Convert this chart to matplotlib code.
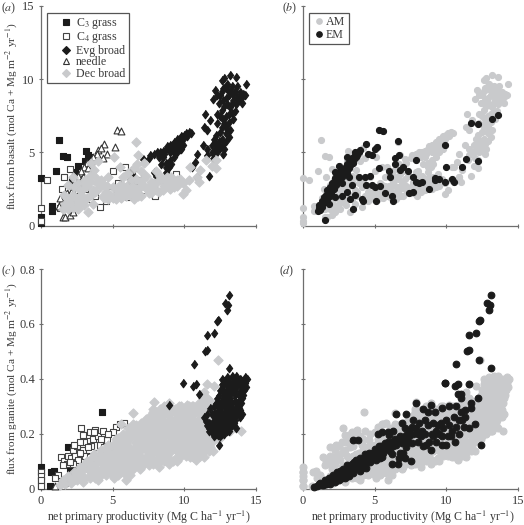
import matplotlib
matplotlib.use("Agg")
import matplotlib.pyplot as plt
from matplotlib.lines import Line2D
import numpy as np

plt.rcParams['font.family'] = ['Liberation Serif', 'DejaVu Serif']
plt.rcParams['mathtext.fontset'] = 'stix'

BLACK = '#1b1b1b'
GRAY = '#c9cacc'
AXC = '#6e6e6e'
TXT = '#3a3a3a'

# ---------- basalt flux ----------
c3_basalt = [(0,3.25),(0,.6),(0,.15),(1.25,5.87),(1.5,4.77),(1.8,4.68),(1.05,3.75),(.8,1.3),(.8,1),(3.15,5.1),
             (3.3,4.85),(2.55,4.05),(2.37,3.65),(3.4,4.7),(2.15,3.1),(2.7,2.6),(3.1,4.4)]
c4_basalt = [(0,1.2),(0,.3),(.45,3.1),(2,3.85),(1.6,3.3),(1.45,2.5),(5.85,4),(6.2,3.5),(6.8,3.55),(4.15,1.25),
             (3.75,2),(9.45,3.55),(6.1,1.95),(7.95,2),(5,3.75),(2.3,2.9),(2.6,2.4),(1.9,2.1),(3.1,2.5),(3.4,1.8),
             (4.5,1.7),(4.9,2.3),(5.4,2.9),(6.6,2.6),(7.2,2.4),(8.3,2.7),(3,3.2),(2.1,1.5),(1.3,1.2),(1.6,1.7)]
evg_basalt = [(7.1,4.55),(7.5,4.6),(7.6,4.8),(7.9,4.9),(8.1,5.0),(8.3,5.0),(8.5,5.1),(8.7,5.2),(8.8,5.4),(9,5.5),
              (9.1,5.3),(9.2,5.6),(9.3,5.7),(9.4,5.5),(9.5,5.9),(9.6,5.6),(9.7,6),(9.8,6.1),(9.9,5.9),(10,6.2),
              (10.1,6.3),(10.3,6.4),(10.45,6.3),(9.9,5.5),(9.7,5.2),(9.5,5.0),(9.3,4.7),(8.9,5.3),(8.5,4.7),
              (8.75,4.0),(8.7,3.65),(7.85,3.65),(8.05,3.4),(6.3,3.75),(6.45,3.3),(6.3,2.97),(6.2,3.2),(8.7,4.3),(8.9,4.0),(9.1,4.2),
              (10.5,4),(10.75,4.35),(10.85,4.9),(11.3,5.5),(11.7,3.4),(10.9,3.3),(13.2,10.3),(13.6,10.15),(14.3,9.65),
              (12.6,9.95),(12,8.65),(12.15,9.25),(11.45,7.65),(11.35,6.75),(11.6,6.5),(11.8,7.2),(12.25,7),(13.15,6.05),
              (12.8,10.1),(13,9.7),(12.7,9.4),(13.3,9.5),(13.5,9.2),(13.9,9.1),(14.1,9),(13.7,8.8),(13.4,8.6),(13.1,8.9),
              (12.9,8.7),(12.5,8.9),(12.4,8.4),(12.8,8.2),(13.2,8.1),(13.6,8.3),(14,8.4),(13.5,7.8),(13.1,7.6),(12.6,7.9),
              (12.3,7.6),(12.7,7.3),(13.1,7.1),(13.4,7.3),(12.9,6.8),(12.5,6.4),(12.2,6.2),(12.9,6.3),(13.2,6.5),
              (12.6,5.9),(12.9,5.8),(12.2,5.6),(12.5,5.3),(12.1,5.1),(11.9,5.0),(11.6,4.8),(12.3,5),(12.8,5.2),(11.9,5.5),(12,4.6),(11.6,5.2),(12.7,4.9),
              (13,9.3),(13.2,9.1),(12.9,9.5),(12.6,9.2),(12.3,8.9),(13.4,9),(13.7,9.5),(13.8,8.6),(14.2,8.9),(14,8.8),
              (13,8.3),(12.7,8.6),(13.3,8.4),(12.5,7.5),(12.9,7.5),(13.3,7.7),(12.8,7),(13,6.6),(12.6,6.7),(12.4,5.8),
              (12.7,5.6),(12.3,5.4),(12.1,5.9),(8.2,4.7),(8.6,4.9),(9.0,5),(9.2,5.1),(9.6,5.4),(9.8,5.7),(10.2,6.1),(9.4,5.2),(9.8,5.2),(9,4.5),(8.4,4.2)]
needle_basalt = [(5.3,6.55),(5.6,6.45),(5.15,5.35),(4.4,5.6),(4,5.15),(4.6,4.9),(4.2,5.3),(3.9,4.9),(3.6,4.7),(3.5,4.4),
                 (3.2,4.3),(3,4),(2.8,3.7),(2.6,3.4),(2.4,3.1),(2.2,2.8),(2,2.5),(1.8,2.2),(1.6,1.9),(1.4,1.6),
                 (1.25,1.3),(1.5,.55),(1.7,.6),(2,.75),(2.2,.9),(4.3,4.6),(3.3,3.9),(2.9,3.3),(2.5,2.9),(2.1,2.3),(1.3,1.9)]
dec_basalt = [(3.3,.95),(1.5,1.1),(1.8,1.3),(2.2,1.2),(2.6,1.1),(3,1.4),(3.6,1.5),(1.9,1.8),(1.6,2.1),(2.4,1.9),
              (2.3,2.6),(2.8,2.1),(2.6,2.9),(3.2,2.7),(3.6,2.4),(3.9,2.9),(4.2,3.1),(4.7,3.3),(3.4,3.4),(3.7,3.8),
              (4,4.4),(3.5,4.3),(5.1,4.7),(5.5,4),(6.6,5.7),(6.8,4.8),(6.7,4.2),(7.2,4.3),(4.3,2),(4.5,2.3),
              (4.7,1.8),(5,1.9),(5,2.6),(5.3,2.2),(5.5,2.8),(5.6,1.9),(5.8,2.3),(6,2.7),(6.2,2.1),(6.3,3.1),
              (6.5,1.8),(6.7,2.4),(6.9,3),(7,2),(7.2,2.7),(7.3,3.4),(7.5,2.2),(7.7,3),(7.8,2.5),(8,3.7),
              (8.2,2.3),(8.4,3.1),(8.6,2.7),(8.8,3.3),(9,2.5),(9.2,3),(9.5,2.7),(9.7,3.2),(9.9,2.9),(9.9,2.15),
              (10.1,2.4),(10.3,3.1),(10.4,4),(10.9,3.3),(11,3),(11.1,3.8),(11.5,4.5),(12.2,3.9),(12.2,4.5),(11.9,4.1),
              (5.7,3.3),(6.1,3.6),(6.5,3.9),(7,3.7),(7.9,2.9),(3.1,3.1),(2.9,2.5),(1.9,2.8),(2.2,3.3),(4.6,2.7),
              (4.4,1.9),(4.8,2.1),(5.2,1.8),(5.4,2.4),(5.7,2.7),(5.9,2),(6.1,2.4),(6.4,2.2),(6.4,2.7),(6.6,3.2),
              (6.8,2),(6.9,2.6),(7.1,3.2),(7.4,2.5),(7.6,2.7),(7.7,2.2),(8,2.4),(8.1,3),(8.3,3.4),(8.5,2.4),
              (8.7,3),(8.9,2.8),(9.1,3.3),(9.3,2.6),(9.5,3.1),(2.5,1.5),(2.8,1.7),(3.2,1.9),(3.5,2.1),(3.8,2.3),
              (2,1.6),(2.2,2.1),(2.7,2.4),(3,2.9),(3.4,3),(3.8,3.3),(4.1,2.6),(4.4,2.8),(1.7,1.5),(1.9,1.1)]

em_basalt_line = [(1.05,1.0),(1.15,1.2),(1.25,1.4),(1.3,1.7),(1.4,1.55),(1.5,1.85),(1.6,2.1),(1.7,1.95),(1.8,2.35),(1.9,2.6),
                  (2,2.45),(2.1,2.85),(2.2,3.05),(2.3,2.8),(2.4,3.2),(2.5,3.45),(2.6,3.2),(2.7,3.6),(2.8,3.85),(2.9,3.55),
                  (3,4),(3.1,4.2),(3.2,3.9),(3.3,4.4),(3.4,4.6),(3.5,4.3),(3.6,4.8),(3.9,5.0),(3.95,5.15),(4.4,5.6),(3.65,5.0),
                  (2.0,2.9),(1.7,2.4),(3.1,4.7),(2.3,3.6),(2.7,2.9),(3.2,3.3),
                  (1.1,1.4),(1.2,1.05),(1.35,1.25),(1.45,1.95),(1.55,1.6),(1.65,1.75),(1.75,2.15),(1.85,2.0),(1.95,2.25),(2.05,2.65),
                  (2.15,2.5),(2.25,3.25),(2.35,3.0),(2.45,2.95),(2.55,3.7),(2.65,3.4),(2.75,3.3),(2.85,3.6),(2.95,3.9),(3.05,3.7),
                  (3.15,4.0),(3.25,4.15),(3.35,4.2),(3.45,4.55),(3.55,4.55),(3.7,4.65),(3.8,4.8),(3.1,3.5),(2.5,4.05),(2.2,3.65)]
em_basalt_scatter = [(5.3,6.55),(5.6,6.45),(5.15,5.35),(5.05,5.2),(4.5,4.9),(4.8,4.8),(6.6,5.75),(6.7,4.85),(6.4,4.6),(6.4,4.2),
                     (5.3,3.95),(6,3.7),(6.1,3.3),(7,4),(6.8,3.8),(7.3,3.7),(7.7,3.3),(7.9,3),(8.3,2.95),(8.1,2.9),
                     (7.7,2.3),(7.4,2.25),(8.8,2.5),(9.2,3.1),(9.5,3.2),(9.9,3),(10.4,3.15),(10.5,2.95),(9.2,3.25),(9.9,5.5),
                     (10,4),(11.1,4),(11.4,4.55),(12.2,4.4),(11.7,7),(12.2,6.95),(13.2,7.3),(13.6,7.55),(7.9,4.45),
                     (1.5,.35),(3.5,1.1),(2.2,1.95),(2.7,2),(3.1,2.3),(3.6,2.1),(3.3,1.8),(4.2,1.7),(4.1,1.8),(4.4,2.8),(4.8,2.75),
                     (5,2.6),(5.4,2.7),(5.7,2.2),(5.1,1.65),(6.2,2),(6.3,1.7),(3.9,3.3),(4.3,3.3),(4.7,3.4),(3.4,2.8),(1.8,1.5)]

# ---------- granite flux ----------
c3_granite = [(0,.08),(0,.06),(.7,.06),(.9,.065),(1.85,.15),(4.25,.28),(0,.03),(0,.01),(.6,.01),(2,.07),(3.5,.12),(1.7,.02)]
c4_granite = [(0,.06),(0,.045),(0,.03),(0,.01),(1.4,.115),(1.6,.1),(1.8,.09),(1.9,.12),(2.1,.11),(2.2,.14),
              (2.4,.12),(2.5,.155),(2.6,.105),(2.8,.22),(2.9,.14),(3,.17),(3.1,.12),(3.2,.195),(3.4,.205),(3.5,.155),
              (3.6,.18),(3.8,.215),(3.9,.13),(4,.19),(4.1,.16),(4.3,.21),(4.5,.13),(4.6,.175),(4.8,.15),(5.2,.225),
              (5.5,.235),(5.8,.24),(5,.205),(2.7,.17),(3.4,.115),(2.2,.09),(1.2,.05),(1.0,.04),
              (2.3,.16),(2.7,.13),(3.3,.15),(3.7,.205),(4.2,.18),(4.4,.15),(4.7,.2),(2,.095),(2.9,.195),(1.5,.085)]
evg_spike = [(13.1,.705),(12.85,.675),(13.05,.67),(12.95,.65),(12.35,.615),(12.3,.61),(11.6,.56),(12.05,.565),(11.55,.505),(11.45,.5),
             (10.65,.455),(9.9,.385),(10.6,.375),(10.8,.38),(11,.345),(8.9,.305),(13.1,.44),(12.4,.16)]
evg_right = [(12.6,.4),(12.8,.39),(13,.405),(13.3,.41),(13.6,.41),(13.9,.4),(14.2,.405),(14.35,.4),(12.7,.36),(12.9,.35),
             (13.1,.37),(13.4,.37),(13.7,.375),(14,.37),(14.3,.37),(12.3,.33),(12.6,.32),(12.85,.33),(13.2,.33),(13.5,.34),
             (13.8,.34),(14.1,.34),(12.1,.3),(12.4,.29),(12.75,.3),(13.05,.3),(13.35,.31),(13.65,.31),(13.95,.31),(11.9,.27),
             (12.2,.25),(12.5,.26),(12.8,.27),(13.1,.27),(13.4,.28),(13.7,.28),(14,.27),(11.7,.22),(12,.21),(12.3,.22),
             (12.6,.23),(12.9,.24),(13.2,.24),(13.5,.25),(11.4,.26),(11.7,.24),(12.1,.19),(12.5,.19),(12.8,.2),(13.1,.21),(11.8,.295),(13.6,.22),
             (12.7,.385),(12.9,.38),(13.15,.39),(13.45,.39),(13.75,.395),(14.05,.39),(14.2,.385),(12.5,.36),(12.8,.35),(13,.35),
             (13.25,.35),(13.55,.355),(13.85,.355),(14.15,.36),(12.45,.31),(12.7,.33),(12.95,.31),(13.2,.31),(13.5,.32),(13.8,.32),
             (14,.33),(12.25,.28),(12.55,.28),(12.9,.285),(13.2,.285),(13.5,.295),(13.8,.295),(12.05,.25),(12.35,.24),(12.65,.25),
             (12.95,.255),(13.25,.26),(13.55,.265),(13.85,.26),(11.85,.23),(12.15,.225),(12.45,.215),(12.75,.22),(13,.225),(13.35,.23),
             (11.75,.21),(12.2,.2),(12.65,.2),(12.95,.21),(11.5,.245),(11.55,.27),(12.05,.27),(12.2,.31),
             (12.45,.34),(12.6,.38),(12.75,.34),(13,.325),(13.1,.345),(13.3,.385),(13.6,.385),(13.9,.38),(14.1,.375),(14.25,.39),
             (12.3,.305),(12.55,.3),(12.85,.31),(13.1,.29),(13.35,.29),(13.65,.29),(13.9,.285),(12.1,.275),(12.35,.265),(12.65,.265),
             (12.95,.27),(13.25,.275),(13.55,.28),(13.8,.27),(12,.24),(12.25,.235),(12.55,.24),(12.8,.245),(13.05,.25),(13.4,.255),
             (11.9,.205),(12.35,.195),(12.6,.215),(12.85,.23),(13.15,.225),(13.45,.24),(11.6,.23)]
needle_granite = [(1,.01),(1.5,.03),(2,.05),(2.5,.07),(3,.09),(3.5,.115)]
dec_granite = [(1.3,.012),(1.5,.03),(1.7,.015),(1.9,.045),(2.1,.02),(2.3,.06),(2.4,.035),(2.7,.08),(2.8,.05),(2.9,.025),
               (3.2,.1),(3.3,.07),(3.4,.04),(3.7,.125),(3.8,.09),(3.9,.06),(4,.03),(4.2,.14),(4.3,.11),(4.4,.08),
               (4.5,.05),(4.7,.16),(4.8,.13),(4.9,.1),(5,.07),(5.1,.04),(5.2,.18),(5.3,.15),(5.4,.12),(5.5,.09),
               (5.6,.06),(5.7,.2),(5.8,.17),(5.9,.14),(6,.11),(6.1,.08),(6.2,.05),(6.4,.235),(6.45,.275),(6.5,.2),
               (6.6,.165),(6.7,.13),(6.8,.1),(6.9,.07),(7,.24),(7.1,.21),(7.2,.18),(7.3,.15),(7.4,.12),(7.5,.085),
               (7.6,.265),(7.7,.23),(7.8,.2),(7.9,.17),(8,.14),(8.1,.105),(8.2,.08),(7.9,.315),(8.3,.29),(8.4,.255),
               (8.5,.22),(8.6,.19),(8.7,.155),(8.8,.12),(8.9,.09),(9,.27),(9.1,.24),(9.2,.21),(9.3,.175),(9.4,.14),
               (9.5,.1),(9.6,.3),(9.7,.26),(9.8,.225),(9.9,.19),(10,.155),(10.1,.12),(10.2,.305),(10.3,.27),(10.4,.24),
               (10.5,.205),(10.6,.17),(10.7,.135),(10.8,.105),(10.9,.29),(11,.25),(11.1,.22),(11.2,.185),(11.3,.15),(11.4,.115),
               (11.55,.38),(11.3,.33),(11.6,.3),(11.7,.265),(11.8,.205),(11.9,.17),(12,.135),(12.1,.375),(12.35,.47),(12.4,.18),
               (13.2,.21),(13.95,.21),(6.1,.22),(5.6,.235),(9.6,.13),(7.2,.1),(5.9,.03),(4.6,.14),(6.3,.14),(8.4,.18),(10.4,.14),
               (1.6,.02),(2,.035),(2.2,.04),(2.6,.06),(3,.07),(3.5,.09),(3.6,.06),(4.1,.11),(4.2,.07),(4.6,.12),
               (4.7,.085),(4.8,.06),(5.05,.13),(5.2,.1),(5.3,.07),(5.5,.165),(5.6,.13),(5.7,.1),(5.8,.075),(6,.19),
               (6.1,.155),(6.2,.125),(6.3,.095),(6.4,.07),(6.7,.215),(6.75,.185),(6.85,.15),(6.95,.115),(7.1,.09),(7.3,.255),
               (7.4,.225),(7.5,.195),(7.6,.165),(7.7,.135),(7.8,.105),(8,.28),(8.1,.245),(8.2,.21),(8.3,.175),(8.4,.145),
               (8.5,.11),(8.7,.275),(8.8,.24),(8.9,.205),(9,.17),(9.1,.135),(9.2,.1),(9.35,.29),(9.4,.255),(9.5,.22),
               (9.6,.185),(9.7,.155),(9.8,.12),(9.9,.28),(10,.245),(10.1,.21),(10.2,.18),(10.3,.145),(10.4,.115),(10.6,.285),
               (10.7,.25),(10.8,.22),(10.9,.185),(11,.15),(11.1,.12),(11.2,.29),(11.35,.255),(11.45,.2),(11.6,.165),(11.7,.135),
               (6.5,.08),(5.4,.05),(7.8,.29),(8.9,.3),(10.5,.3),(11.6,.33),(12,.24),(11.95,.3),(8.9,.31),(10.3,.3)]
dec_granite_fill = [(2.5,.03),(2.5,.05),(3,.04),(3,.085),(3.4,.05),(3.4,.08),(3.4,.105),(3.8,.04),(3.8,.075),(3.8,.11),
                    (4.2,.05),(4.2,.095),(4.2,.125),(4.6,.065),(4.6,.105),(4.6,.15),(5,.05),(5,.09),(5,.12),(5,.16),
                    (5.4,.08),(5.4,.105),(5.4,.14),(5.4,.185),(5.8,.055),(5.8,.09),(5.8,.12),(5.8,.155),(5.8,.19),(6.2,.07),
                    (6.2,.105),(6.2,.145),(6.2,.18),(6.2,.21),(6.6,.085),(6.6,.115),(6.6,.15),(6.6,.19),(6.6,.23),(7,.08),
                    (7,.11),(7,.14),(7,.17),(7,.2),(7,.23),(7.4,.1),(7.4,.135),(7.4,.17),(7.4,.21),(7.4,.25),
                    (7.8,.09),(7.8,.125),(7.8,.155),(7.8,.185),(7.8,.22),(7.8,.26),(7.8,.28),(8.2,.095),(8.2,.13),(8.2,.16),
                    (8.2,.195),(8.2,.23),(8.2,.27),(8.6,.1),(8.6,.135),(8.6,.17),(8.6,.205),(8.6,.24),(8.6,.27),(8.6,.3),
                    (9,.105),(9,.15),(9,.185),(9,.22),(9,.255),(9,.29),(9.4,.11),(9.4,.16),(9.4,.195),(9.4,.235),
                    (9.4,.275),(9.8,.135),(9.8,.17),(9.8,.21),(9.8,.24),(9.8,.27),(9.8,.3),(10.2,.13),(10.2,.165),(10.2,.195),
                    (10.2,.225),(10.2,.26),(10.2,.29),(10.6,.115),(10.6,.15),(10.6,.19),(10.6,.23),(10.6,.27),(10.6,.3),(11,.125),
                    (11,.165),(11,.205),(11,.235),(11,.27),(11,.31),(11.4,.135),(11.4,.17),(11.4,.215),(11.4,.28),(11.4,.31),
                    (11.4,.35),(11.8,.15),(11.8,.185),(11.8,.25),(11.8,.32)]
em_granite_line = [(.8,.005),(1,.01),(1.2,.02),(1.4,.012),(1.5,.03),(1.7,.02),(1.8,.04),(2,.03),(2.1,.05),(2.3,.04),
                   (2.4,.06),(2.6,.045),(2.8,.07),(3,.055),(3.1,.085),(3.3,.065),(3.4,.09),(3.6,.075),(3.7,.105),(3.9,.085),
                   (4,.11),(4.2,.09),(4.3,.125),(4.5,.1),(4.6,.13),(4.8,.115),(5,.145),(5.2,.12),(5.3,.155),(5.6,.13),(5.7,.165),
                   (6,.15),(6.2,.17),(6.5,.16),(6.8,.19),(7,.18),(3.5,.055),(2.9,.04),(4.4,.075),
                   (1.1,.015),(1.3,.012),(1.6,.015),(1.9,.018),(2.2,.025),(2.5,.03),(2.7,.055),(3.2,.045),(3.5,.07),(3.8,.095),
                   (4.1,.075),(4.4,.11),(4.7,.095),(4.9,.13),(5.1,.105),(5.4,.14),(5.5,.115),(5.9,.17),(6.1,.135),(6.4,.18),
                   (6.6,.175),(6.9,.165),(7.2,.195),(7.4,.19),(3.0,.07),(2.2,.045),(2.6,.065),(1.9,.04),(3.4,.06),(4,.065),
                   (1.5,.018),(1.8,.025),(2.05,.035),(2.35,.05),(2.75,.04),(3.05,.045),(3.25,.08),(3.55,.095),(3.75,.08),(3.95,.1),
                   (4.15,.105),(4.35,.09),(4.55,.115),(4.75,.125),(5,.12),(5.2,.14),(5.45,.155),(5.7,.15),(5.85,.145),(6.3,.155)]
em_granite_cloud = [(3.5,.175),(3.85,.175),(5.2,.2),(5.5,.205),(5.9,.205),(6.3,.21),(6.5,.27),(7.2,.27),(7.7,.25),(7.9,.31),
                    (8.4,.29),(8.7,.28),(9.2,.28),(9.7,.295),(10.2,.3),(10.7,.3),(11,.28),(11.3,.285),(11.7,.31),(12.2,.33),
                    (12.3,.47),(11.6,.38),(11.7,.295),(12,.235),(11.6,.22),(11.2,.225),(10.9,.2),(10.3,.19),(10.6,.17),(10,.16),
                    (9.7,.19),(9.3,.17),(9,.2),(8.7,.23),(8.3,.21),(8,.17),(7.7,.2),(7.4,.21),(7.1,.22),(8.9,.14),(8.4,.155),
                    (7.6,.165),(7.3,.17),(7.5,.1),(7.1,.11),(6.7,.11),(6.6,.09),(6.2,.09),(7,.13),(6.2,.125),(9.6,.24),(10,.25),
                    (10.5,.26),(9.1,.24),(8.1,.24),(10.9,.25),(8.5,.25),(9.5,.2),(11,.33),(10.8,.345),(6.9,.24),(6,.195),(9.9,.385),(5.4,.11),
                    (7.9,.22),(8.2,.19),(8.5,.2),(8.8,.17),(9.1,.19),(9.4,.23),(9.8,.22),(10.2,.23),(10.4,.21),(10.7,.225),
                    (11.1,.25),(11.3,.26),(8,.2),(7.6,.225),(9.3,.21),(8.6,.16),(9.7,.16),(10.1,.19),(7.2,.15),(6.8,.13)]


def pts(seq):
    a = np.asarray(seq, dtype=float)
    return a[:, 0], a[:, 1]


def scatter(ax, seq, marker, face, edge, s, lw=0.8):
    x, y = pts(seq)
    ax.scatter(x, y, marker=marker, s=s, facecolors=face, edgecolors=edge,
               linewidths=lw, clip_on=False, zorder=3)


W, H = 524, 525
fig = plt.figure(figsize=(W / 100, H / 100), dpi=100)
FS = 8.6
FSY = 8.1
TALL = [(0, 1), (.74, 0), (0, -1), (-.74, 0)]


def make_axes(left, top, right, bottom, ymax, yticks, ylabels, show_x, ylab, tag, tagx, tagy, xlabx=None):
    ax = fig.add_axes([left / W, 1 - bottom / H, (right - left) / W, (bottom - top) / H])
    ax.set_xlim(0, 15)
    ax.set_ylim(0, ymax)
    ax.patch.set_alpha(0)
    for sp in ('top', 'right'):
        ax.spines[sp].set_visible(False)
    for sp in ('left', 'bottom'):
        ax.spines[sp].set_color(AXC)
        ax.spines[sp].set_linewidth(0.9)
    ax.set_xticks([0, 5, 10, 15])
    ax.set_yticks(yticks)
    ax.set_yticklabels(ylabels if ylabels else [''] * len(yticks))
    ax.set_xticklabels(['0', '5', '10', '15'] if show_x else [''] * 4)
    ax.tick_params(axis='both', direction='inout', length=3, width=0.8, color=AXC,
                   labelsize=9, labelcolor=TXT, pad=3)
    if show_x:
        fig.text(xlabx / W, 1 - 520.5 / H, r'net primary productivity (Mg C ha$^{-1}$ yr$^{-1}$)', fontsize=FS,
                 color=TXT, ha='center', va='baseline')
    if ylab:
        fig.text(11.5 / W, 1 - (top + bottom) / 2 / H, ylab, rotation=90, va='center', ha='center',
                 fontsize=FSY, color=TXT)
    fig.text(tagx / W, 1 - tagy / H, tag, fontsize=FS, color=TXT, va='center', ha='left')
    return ax


axa = make_axes(41, 6, 256, 225.5, 15, [0, 5, 10, 15], ['0', '5', '10', '15'], False,
                r'flux from basalt (mol Ca + Mg m$^{-2}$ yr$^{-1}$)', r'($\mathit{a}$)', 1, 8)
axb = make_axes(303, 6, 518, 225.5, 15, [0, 5, 10, 15], None, False, None, r'($\mathit{b}$)', 282, 8)
axc = make_axes(41, 269, 256, 488.5, 0.8, [0, .2, .4, .6, .8], ['0', '0.2', '0.4', '0.6', '0.8'], True,
                r'flux from granite (mol Ca + Mg m$^{-2}$ yr$^{-1}$)', r'($\mathit{c}$)', 1, 271, 149)
axd = make_axes(303, 269, 518, 488.5, 0.8, [0, .2, .4, .6, .8], None, True, None, r'($\mathit{d}$)', 279, 271, 413)

SQ, DM, TR, CI, TD = 17, 22, 24, 19, 38

# (a)
scatter(axa, c3_basalt, 's', BLACK, BLACK, SQ)
scatter(axa, c4_basalt, 's', 'white', '#444444', SQ)
scatter(axa, evg_basalt, TALL, BLACK, BLACK, TD)
scatter(axa, needle_basalt, '^', 'white', '#333333', TR)
scatter(axa, dec_basalt, 'D', GRAY, GRAY, DM)

# (b)
scatter(axb, c3_basalt + c4_basalt + evg_basalt + dec_basalt + needle_basalt, 'o', GRAY, GRAY, CI)
scatter(axb, em_basalt_line + em_basalt_scatter, 'o', BLACK, BLACK, CI)

# (c)
scatter(axc, c3_granite, 's', BLACK, BLACK, SQ)
scatter(axc, needle_granite, '^', 'white', '#333333', TR)
scatter(axc, c4_granite, 's', 'white', '#444444', SQ)
scatter(axc, dec_granite + dec_granite_fill, 'D', GRAY, GRAY, DM)
scatter(axc, evg_spike + evg_right, TALL, BLACK, BLACK, TD)

# (d)
scatter(axd, c3_granite + c4_granite + dec_granite + dec_granite_fill + evg_right, 'o', GRAY, GRAY, CI + 6)
scatter(axd, em_granite_line + evg_spike + em_granite_cloud, 'o', BLACK, BLACK, CI + 4)

# legends
hl = lambda m, fc, ec, ms: Line2D([], [], linestyle='none', marker=m, markerfacecolor=fc, markeredgecolor=ec,
                                  markersize=ms, markeredgewidth=0.8)
leg_a = axa.legend([hl('s', BLACK, BLACK, 4), hl('s', 'white', '#444444', 4), hl('D', BLACK, BLACK, 3.6),
                    hl('^', 'white', '#333333', 5), hl('D', GRAY, GRAY, 3.8)],
                   ['C$_3$ grass', 'C$_4$ grass', 'Evg broad', 'needle', 'Dec broad'],
                   loc='upper left', bbox_to_anchor=((47 - 41) / 215, 1 - (12.5 - 6) / 219.5), borderaxespad=0,
                   fontsize=FS, labelcolor=TXT, fancybox=False, framealpha=1, edgecolor='#555555',
                   labelspacing=-0.05, handletextpad=-0.47, borderpad=0.3, handlelength=2.6)
leg_a.get_frame().set_linewidth(0.9)
leg_a.set_zorder(5)
leg_b = axb.legend([hl('o', GRAY, GRAY, 4), hl('o', BLACK, BLACK, 4)], ['AM', 'EM'],
                   loc='upper left', bbox_to_anchor=((309 - 303) / 215, 1 - (12.5 - 6) / 219.5), borderaxespad=0,
                   fontsize=FS, labelcolor=TXT, fancybox=False, framealpha=1, edgecolor='#555555',
                   labelspacing=0.05, handletextpad=0.05, borderpad=0.3, handlelength=1.07)
leg_b.get_frame().set_linewidth(0.9)
leg_b.set_zorder(5)

fig.savefig('out.png', dpi=100)
